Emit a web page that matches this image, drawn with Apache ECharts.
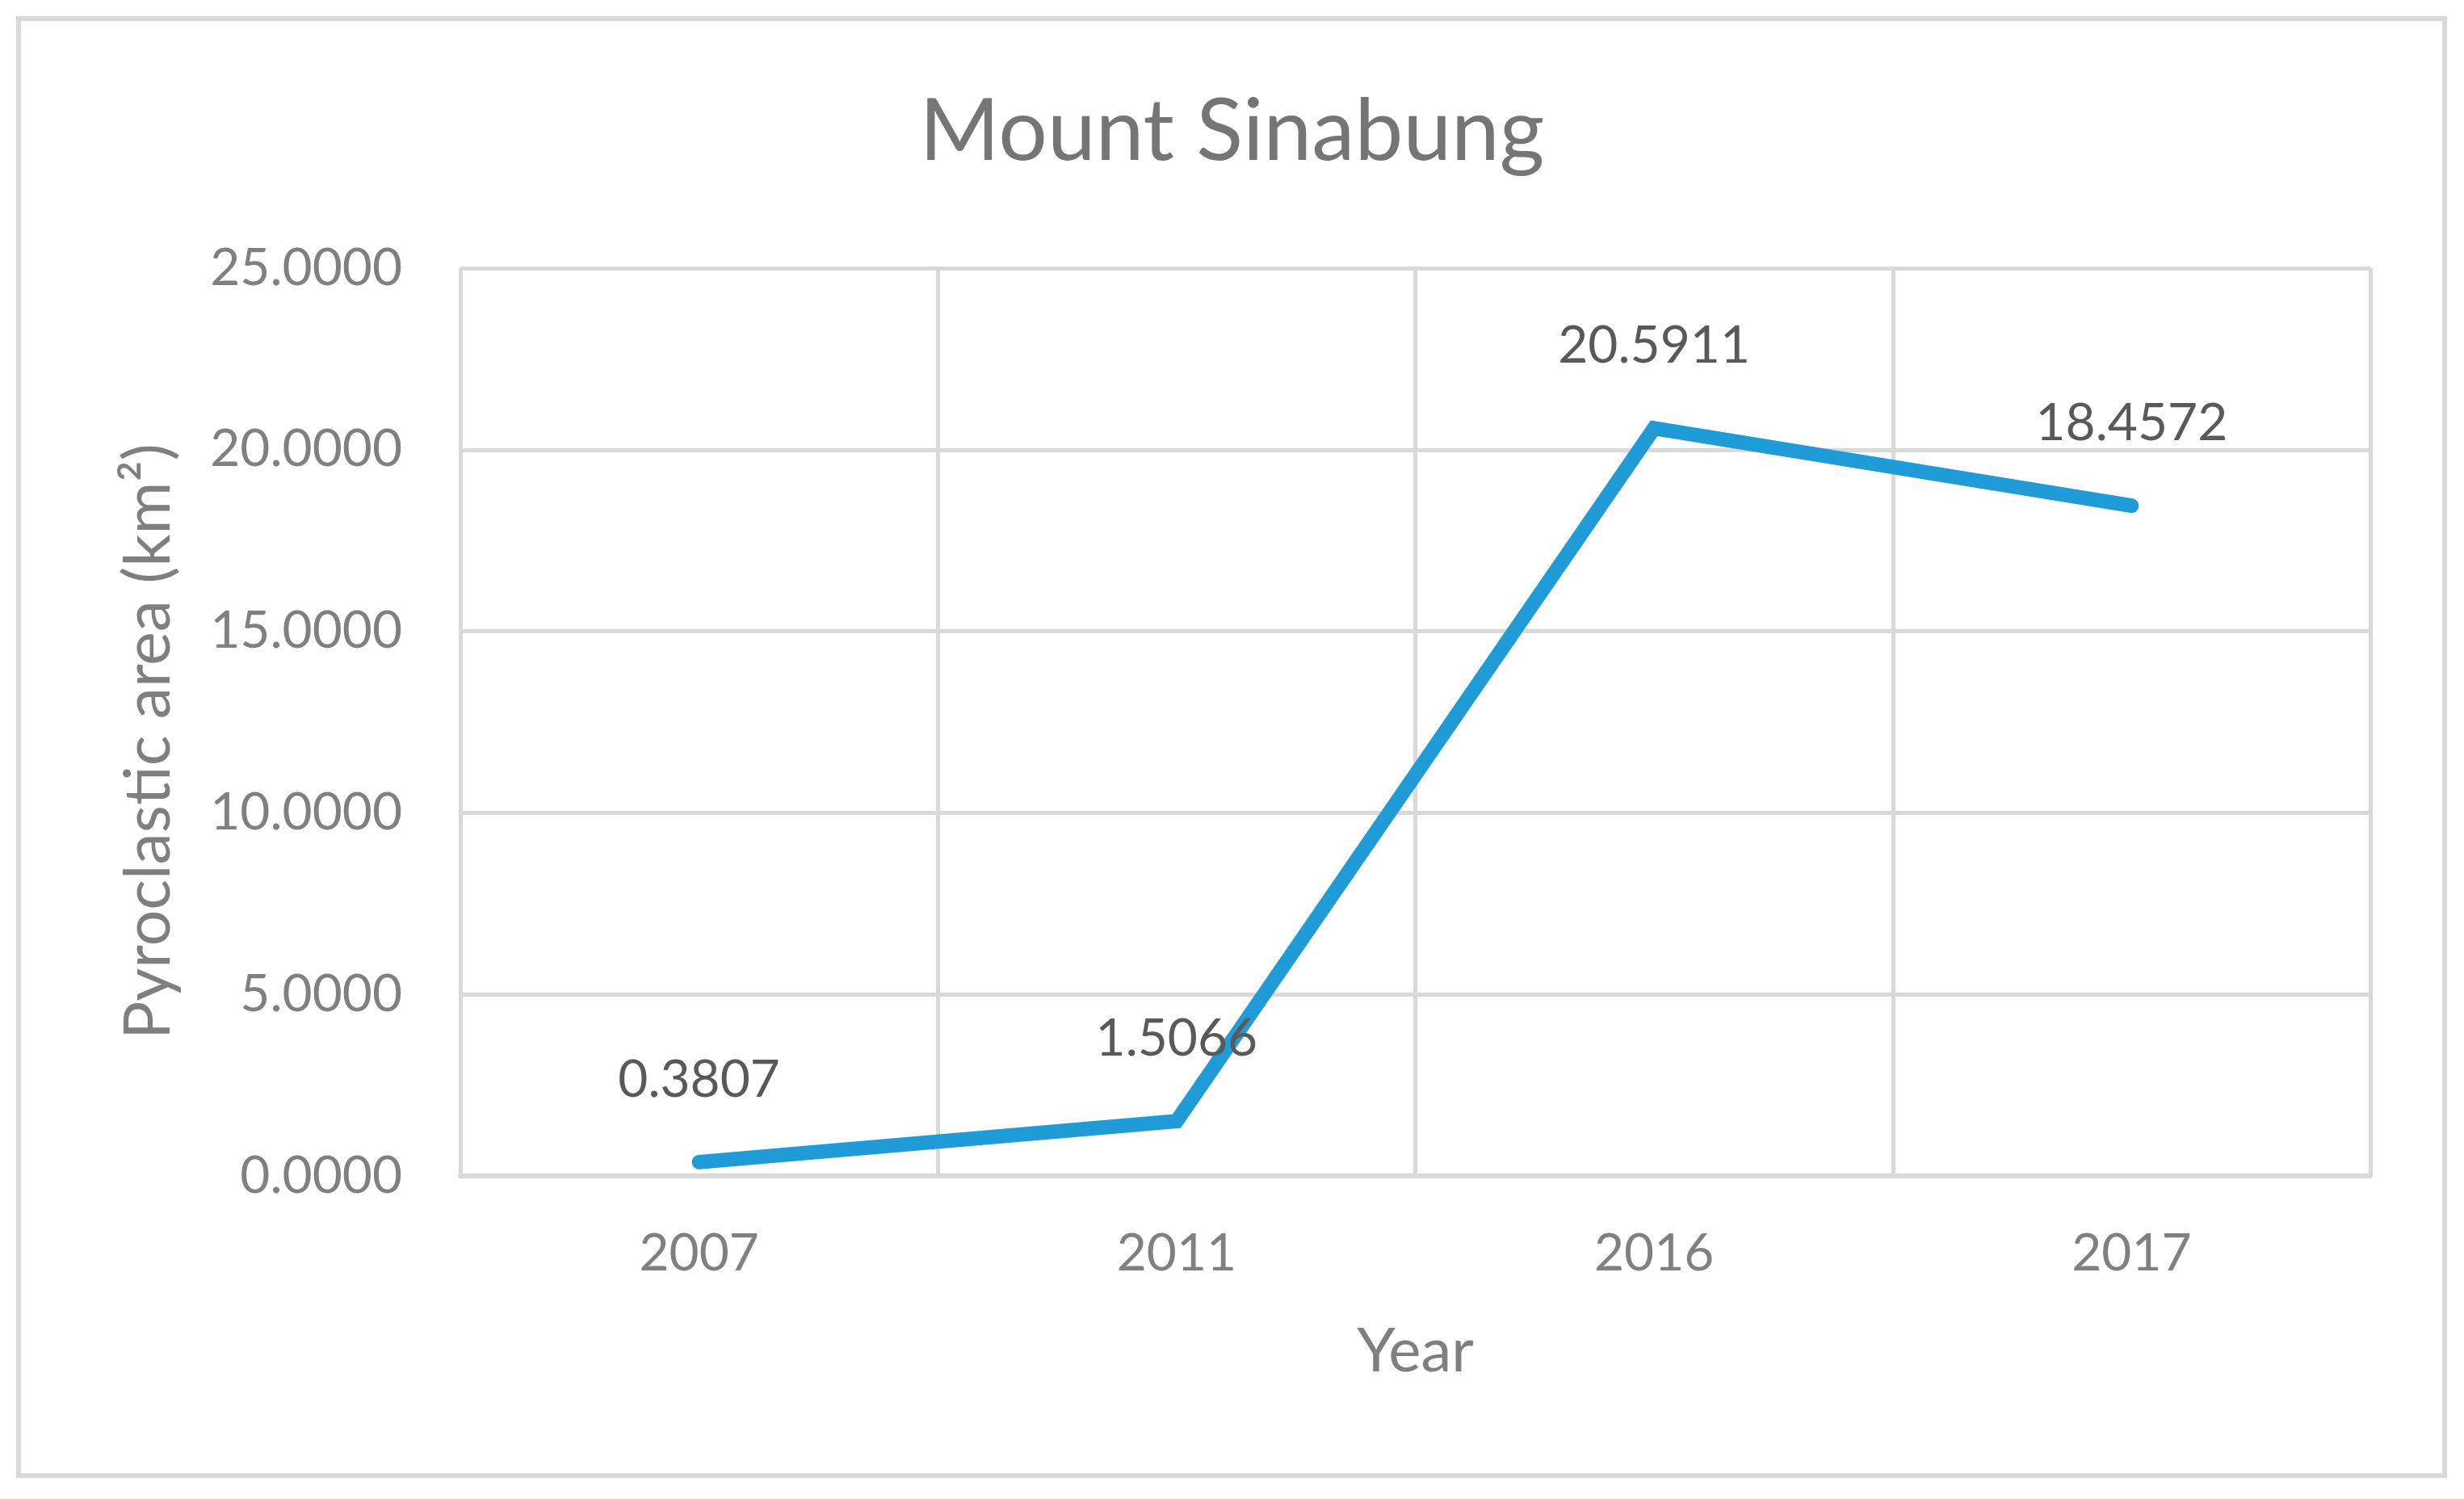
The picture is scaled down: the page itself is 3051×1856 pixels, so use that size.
<!DOCTYPE html>
<html>
<head>
<meta charset="utf-8">
<script src="https://cdn.jsdelivr.net/npm/echarts@6/dist/echarts.min.js"></script>
<style>
html,body{margin:0;padding:0;background:#fff;}
#chart{width:3051px;height:1856px;}
</style>
</head>
<body>
<div id="chart"></div>
<script>
const titleText = 'Mount Sinabung';
const categories = ['2007', '2011', '2016', '2017'];
const pyroclasticArea = [0.3807, 1.5066, 20.5911, 18.4572];
const yAxisName = 'Pyroclastic area (km²)';
const xAxisName = 'Year';

const FONT = 'Lato';
const chart = echarts.init(document.getElementById('chart'), null, {renderer: 'canvas'});
chart.setOption({
  backgroundColor: '#ffffff',
  animation: false,
  title: {
    text: titleText,
    left: 'center',
    top: 94,
    textStyle: {fontFamily: FONT, fontSize: 107, fontWeight: 'normal', color: '#757575', lineHeight: 128}
  },
  graphic: [{
    type: 'rect',
    shape: {x: 23, y: 23, width: 3004, height: 1804},
    style: {fill: 'none', stroke: '#d9d9d9', lineWidth: 6},
    silent: true
  }],
  grid: {left: 570, right: 116, top: 332, bottom: 400, containLabel: false},
  xAxis: {
    type: 'category',
    data: categories,
    boundaryGap: true,
    name: xAxisName,
    nameLocation: 'middle',
    nameGap: 173,
    nameTextStyle: {fontFamily: FONT, fontSize: 76, color: '#7f7f7f', lineHeight: 88},
    axisLine: {show: true, lineStyle: {color: '#d9d9d9', width: 6}},
    axisTick: {show: false},
    axisLabel: {fontFamily: FONT, fontSize: 64, color: '#808080', margin: 57, lineHeight: 78},
    splitLine: {show: true, interval: 0, lineStyle: {color: '#d9d9d9', width: 5}}
  },
  yAxis: {
    type: 'value',
    min: 0, max: 25, interval: 5,
    name: yAxisName,
    nameLocation: 'middle',
    nameGap: 346,
    nameTextStyle: {fontFamily: FONT, fontSize: 79, color: '#7f7f7f', padding: [0, 48, 0, 0]},
    axisLine: {show: false},
    axisTick: {show: false},
    axisLabel: {fontFamily: FONT, fontSize: 64, color: '#808080', margin: 72,
      formatter: v => v.toFixed(4)},
    splitLine: {show: true, lineStyle: {color: '#d9d9d9', width: 5}}
  },
  series: [{
    type: 'line',
    data: pyroclasticArea,
    symbol: 'circle',
    symbolSize: 0,
    showSymbol: true,
    lineStyle: {color: '#1f9cd8', width: 18, cap: 'round', join: 'miter'},
    itemStyle: {color: '#1f9cd8'},
    label: {
      show: true, position: 'top', distance: 63,
      fontFamily: FONT, fontSize: 64, color: '#595959', lineHeight: 78,
      formatter: p => p.value.toFixed(4)
    },
    z: 5
  }]
});
</script>
</body>
</html>
